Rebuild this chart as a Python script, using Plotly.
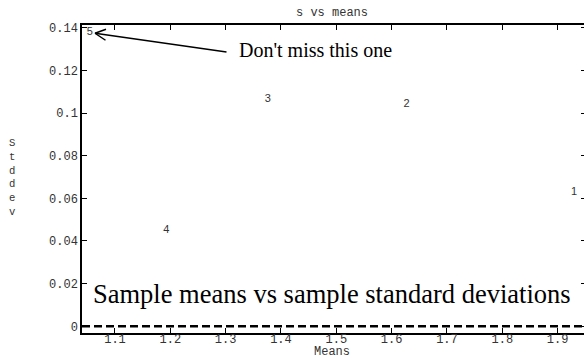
import plotly.graph_objects as go

# ---- data ----
labels = ["1", "2", "3", "4", "5"]
means = [1.9296, 1.627, 1.376, 1.193, 1.0543]
stddevs = [0.0627, 0.1041, 0.1066, 0.0451, 0.1377]

x_ticks = [1.1, 1.2, 1.3, 1.4, 1.5, 1.6, 1.7, 1.8, 1.9]
x_ticktext = ["1.1", "1.2", "1.3", "1.4", "1.5", "1.6", "1.7", "1.8", "1.9"]
y_ticks = [0, 0.02, 0.04, 0.06, 0.08, 0.1, 0.12, 0.14]
y_ticktext = ["0", "0.02", "0.04", "0.06", "0.08", "0.1", "0.12", "0.14"]

x_range = [1.0404, 1.9513]
y_range = [-0.00314, 0.14127]

title_text = "s vs means"
x_title = "Means"
y_title = "Stddev"
callout_text = "Don't miss this one"
callout_target = (1.0639, 0.1374)
callout_pos = (1.3205, 0.1295)
caption_text = "Sample means vs sample standard deviations"
caption_pos = (1.0566, 0.0153)

MONO = "Liberation Mono"
SERIF = "Liberation Serif"
TXT = "#333333"

fig = go.Figure()

fig.add_trace(go.Scatter(
    x=means, y=stddevs, mode="text", text=labels,
    textposition="middle center",
    textfont=dict(family="Liberation Sans", size=11, color=TXT),
    hoverinfo="skip", showlegend=False,
))

axis_common = dict(
    ticks="inside", ticklen=5, tickwidth=1, tickcolor="black",
    linecolor="black", linewidth=1.5, showgrid=False, zeroline=False,
    automargin=False, showline=True, mirror="ticks",
    tickfont=dict(family=MONO, size=12, color=TXT),
)

# figure is 2px wider than the window: the right frame line sits just
# outside the visible page, as in the reference
fig.update_layout(
    width=586, height=358,
    margin=dict(l=82, r=0, t=25, b=25, pad=0),
    paper_bgcolor="white", plot_bgcolor="white",
    showlegend=False,
    xaxis=dict(range=x_range, tickvals=x_ticks, ticktext=x_ticktext,
               ticklabelstandoff=-6, **axis_common),
    yaxis=dict(range=y_range, tickvals=y_ticks, ticktext=y_ticktext,
               **axis_common),
)

# dashed zero line
fig.add_shape(type="line", xref="paper", x0=0, x1=1, yref="y", y0=0, y1=0,
              line=dict(color="black", width=2.5, dash="8px,4px"))

# title & axis titles
fig.add_annotation(text=title_text, xref="paper", yref="paper", x=0.496, y=1,
                   yshift=12, xanchor="center", yanchor="middle", showarrow=False,
                   font=dict(family=MONO, size=12, color=TXT))
fig.add_annotation(text=x_title, xref="paper", yref="paper", x=0.496, y=0,
                   yshift=-19, xanchor="center", yanchor="middle", showarrow=False,
                   font=dict(family=MONO, size=12, color=TXT))
fig.add_annotation(text="<br>".join(list(y_title)), xref="paper", yref="paper",
                   x=0, xshift=-70, y=0.5, yshift=2, xanchor="center",
                   yanchor="middle", showarrow=False,
                   font=dict(family=MONO, size=10.6, color=TXT))

# callout arrow shaft
tx, ty = callout_target
fig.add_annotation(x=tx, y=ty, xref="x", yref="y", text="", showarrow=True,
                   arrowhead=0, ax=133, ay=19, arrowwidth=1.5, arrowcolor="black")
# arrowhead arms (open V)
fig.add_annotation(x=tx, y=ty, xref="x", yref="y", text="", showarrow=True,
                   arrowhead=0, ax=12.5, ay=-4.5, arrowwidth=1.5, arrowcolor="black")
fig.add_annotation(x=tx, y=ty, xref="x", yref="y", text="", showarrow=True,
                   arrowhead=0, ax=12, ay=8, arrowwidth=1.5, arrowcolor="black")

fig.add_annotation(text=callout_text, x=callout_pos[0], y=callout_pos[1],
                   xref="x", yref="y", xanchor="left", yanchor="middle",
                   showarrow=False, font=dict(family=SERIF, size=20, color="black"))
fig.add_annotation(text=caption_text, x=caption_pos[0], y=caption_pos[1],
                   xref="x", yref="y", xanchor="left", yanchor="middle",
                   showarrow=False, font=dict(family=SERIF, size=26.5, color="black"))

fig.write_html(
    "out.html",
    config={"displayModeBar": False},
    post_script="document.body.style.margin='0';document.body.style.overflow='hidden';",
)
